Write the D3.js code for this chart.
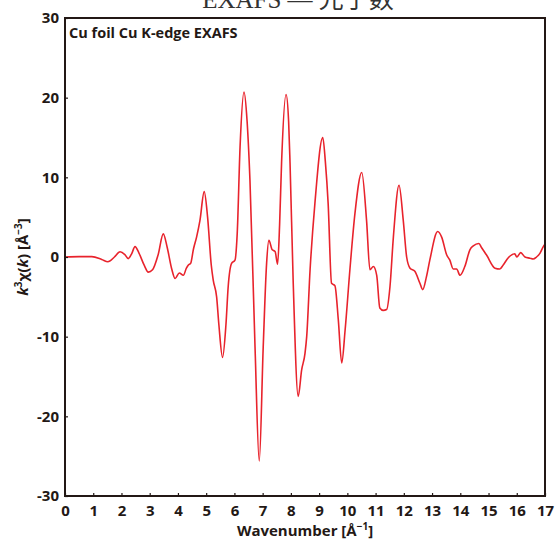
<!DOCTYPE html>
<html>
<head>
<meta charset="utf-8">
<script src="https://cdn.jsdelivr.net/npm/d3@7"></script>
<style>
  body { margin: 0; background: #fff; }
  text { font-family: "Open Sans", "Noto Sans", sans-serif; fill: #231815; }
</style>
</head>
<body>
<script>
// EXAFS data (k in 1/A, k^3 chi(k))
var kValues = [0, 0.5, 0.95, 1.3, 1.52, 1.75, 1.95, 2.12, 2.24, 2.36, 2.48, 2.62, 2.8, 2.95, 3.1, 3.3, 3.48, 3.62, 3.78, 3.9,
  4.05, 4.19, 4.3, 4.37, 4.45, 4.55, 4.66, 4.78, 4.93, 5.05, 5.18, 5.25, 5.37, 5.45, 5.58, 5.7, 5.78, 5.9, 6.02, 6.1,
  6.2, 6.34, 6.45, 6.55, 6.73, 6.88, 7.02, 7.14, 7.22, 7.34, 7.44, 7.53, 7.6, 7.67, 7.83, 7.92, 7.97, 8.08, 8.26, 8.38,
  8.5, 8.56, 8.68, 8.85, 9.13, 9.22, 9.32, 9.44, 9.56, 9.68, 9.8, 9.92, 10.09, 10.27, 10.51, 10.68, 10.8, 10.92, 11.04, 11.15,
  11.27, 11.39, 11.51, 11.63, 11.83, 11.98, 12.1, 12.22, 12.39, 12.57, 12.67, 12.8, 12.92, 13.2, 13.34, 13.52, 13.63, 13.75, 13.87, 13.99,
  14.16, 14.34, 14.46, 14.66, 14.75, 14.93, 15.23, 15.4, 15.52, 15.7, 15.93, 16.0, 16.14, 16.29, 16.47, 16.58, 16.7, 16.82, 16.94, 17.0];
var chiValues = [0, 0.05, 0.05, -0.3, -0.6, 0.0, 0.66, 0.3, -0.2, 0.4, 1.3, 0.5, -1.0, -1.9, -1.6, 0.3, 2.9, 1.2, -1.5, -2.7,
  -2.0, -2.3, -1.4, -1.0, -0.8, 1.0, 2.5, 4.6, 8.2, 5.0, -1.0, -2.9, -5.0, -8.5, -12.6, -8.5, -3.7, -0.8, -0.4, 3,
  13.8, 20.7, 17, 9.7, -11.3, -25.6, -11.3, -0.8, 2.1, 0.9, 0.7, -0.9, 4, 11.8, 20.4, 17, 11.8, -2.9, -17.5, -14.2,
  -12.1, -10, -1.6, 6.7, 15.0, 12, 6.7, -3.3, -3.6, -7.9, -13.3, -9.2, -1.6, 5.5, 10.6, 4.6, -1.6, -1.2, -2.3, -6.4,
  -6.7, -6.6, -3.7, 2.5, 9.0, 4.6, 0, -1.4, -1.8, -3.3, -4.1, -2.5, -0.4, 3.2, 2.5, 0.25, -0.4, -1.5, -1.5, -2.3,
  -1.2, 0.9, 1.4, 1.7, 1.2, 0.25, -1.4, -1.5, -1.0, -0.1, 0.4, 0, 0.55, 0, -0.15, -0.25, 0, 0.45, 1.3, 1.6];
var xTicks = d3.range(0, 18, 1);
var yTicks = [-30, -20, -10, 0, 10, 20, 30];

var W = 555, H = 543;
var margin = {left: 65, right: 10, top: 18, bottom: 47};

var svg = d3.select("body").append("svg")
  .attr("width", W)
  .attr("height", H);

var x = d3.scaleLinear().domain([0, 17]).range([margin.left, W - margin.right]);
var y = d3.scaleLinear().domain([-30, 30]).range([H - margin.bottom, margin.top]);

// heading above the plot, clipped by the top edge as in the source
svg.append("text")
  .attr("x", 298)
  .attr("y", 8)
  .attr("text-anchor", "middle")
  .style("font-family", "'Liberation Serif', 'DejaVu Serif', 'Noto Sans CJK SC', serif")
  .style("font-size", "25px")
  .style("fill", "#333")
  .text("EXAFS — 光子数");

// curve
var pts = kValues.map(function(k, i) { return [k, chiValues[i]]; });
var line = d3.line()
  .x(function(d) { return x(d[0]); })
  .y(function(d) { return y(d[1]); })
  .curve(d3.curveMonotoneX);

svg.append("path")
  .datum(pts)
  .attr("d", line)
  .attr("fill", "none")
  .attr("stroke", "#e8232c")
  .attr("stroke-width", 1.6)
  .attr("stroke-linejoin", "round");

// axes (inward ticks, plain hyphen minus)
var fmt = function(d) { return String(d); };
var xAxis = svg.append("g")
  .attr("transform", "translate(0," + y(-30) + ")")
  .call(d3.axisBottom(x).tickValues(xTicks).tickFormat(fmt).tickSizeInner(-3).tickSizeOuter(0).tickPadding(9));
var yAxis = svg.append("g")
  .attr("transform", "translate(" + x(0) + ",0)")
  .call(d3.axisLeft(y).tickValues(yTicks).tickFormat(fmt).tickSizeInner(-3).tickSizeOuter(0).tickPadding(6));

[xAxis, yAxis].forEach(function(g) {
  g.select(".domain").remove();
  g.selectAll("line").attr("stroke", "#231815").attr("stroke-width", 1.2);
  g.selectAll("text")
    .style("font-family", "'Open Sans', 'Noto Sans', sans-serif")
    .style("font-size", "15px")
    .style("font-weight", "bold")
    .attr("fill", "#231815");
});

// frame
svg.append("rect")
  .attr("x", x(0))
  .attr("y", y(30))
  .attr("width", x(17) - x(0))
  .attr("height", y(-30) - y(30))
  .attr("fill", "none")
  .attr("stroke", "#231815")
  .attr("stroke-width", 2);

// annotation inside plot
svg.append("text")
  .attr("x", 69)
  .attr("y", 38)
  .style("font-size", "14.5px")
  .style("font-weight", "bold")
  .text("Cu foil Cu K-edge EXAFS");

// x axis title
var xt = svg.append("text")
  .attr("x", (x(0) + x(17)) / 2)
  .attr("y", 536)
  .attr("text-anchor", "middle")
  .style("font-size", "15px")
  .style("font-weight", "bold");
xt.append("tspan").text("Wavenumber [Å");
xt.append("tspan").attr("dy", -6).style("font-size", "10px").text("−1");
xt.append("tspan").attr("dy", 6).text("]");

// y axis title
var yt = svg.append("text")
  .attr("transform", "translate(28," + y(0) + ") rotate(-90)")
  .attr("text-anchor", "middle")
  .style("font-size", "15px")
  .style("font-weight", "bold");
yt.append("tspan").style("font-style", "italic").text("k");
yt.append("tspan").attr("dy", -6).style("font-size", "10px").text("3");
yt.append("tspan").attr("dy", 6).text("χ(");
yt.append("tspan").style("font-style", "italic").text("k");
yt.append("tspan").text(")  [Å");
yt.append("tspan").attr("dy", -6).style("font-size", "10px").text("−3");
yt.append("tspan").attr("dy", 6).text("]");
</script>
</body>
</html>
